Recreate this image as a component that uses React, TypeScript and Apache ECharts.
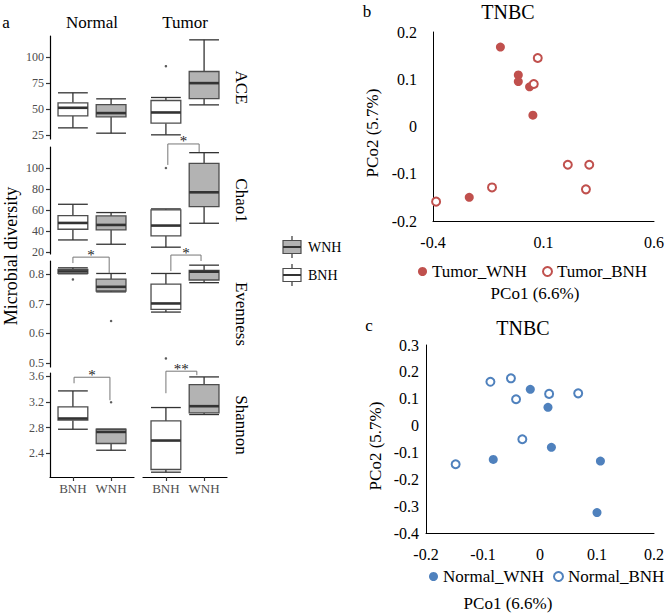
import React, { useEffect, useRef } from 'react';
import * as echarts from 'echarts';

const FONT = '"Liberation Serif", "Times New Roman", serif';

// ---------- Panel a: box statistics [min, q1, median, q3, max] ----------
const metrics = ['ACE', 'Chao1', 'Evenness', 'Shannon'];
const groups = ['Normal', 'Tumor'];
const nhLabels = ['BNH', 'WNH'];

const aceNormalBNH = [31.7, 43.3, 51.0, 55.8, 65.4];
const aceNormalWNH = [26.6, 42.3, 45.9, 54.1, 59.6];
const aceTumorBNH = [25.0, 36.2, 46.5, 58.0, 60.9];
const aceTumorWNH = [53.8, 59.9, 74.7, 85.9, 116.3];
const chao1NormalBNH = [31.4, 41.6, 47.6, 54.6, 65.4];
const chao1NormalWNH = [27.3, 41.0, 45.7, 54.3, 57.5];
const chao1TumorBNH = [24.5, 35.2, 45.1, 60.0, 61.0];
const chao1TumorWNH = [47.3, 63.2, 76.8, 104.4, 114.6];
const evenNormalBNH = [0.801, 0.802, 0.809, 0.816, 0.821];
const evenNormalWNH = [0.740, 0.743, 0.757, 0.783, 0.802];
const evenTumorBNH = [0.672, 0.681, 0.701, 0.766, 0.802];
const evenTumorWNH = [0.771, 0.780, 0.808, 0.812, 0.830];
const shanNormalBNH = [2.774, 2.915, 2.941, 3.122, 3.371];
const shanNormalWNH = [2.447, 2.552, 2.732, 2.774, 2.774];
const shanTumorBNH = [2.105, 2.147, 2.598, 2.904, 3.112];
const shanTumorWNH = [3.003, 3.028, 3.133, 3.47, 3.589];

// outliers [x position (1=BNH, 2=WNH), value]
const aceNormalOut: number[][] = [];
const aceTumorOut = [[1, 91]];
const chao1NormalOut: number[][] = [];
const chao1TumorOut = [[1, 100]];
const evenNormalOut = [[1, 0.782], [2, 0.642]];
const evenTumorOut = [[1, 0.516]];
const shanNormalOut = [[2, 3.195]];
const shanTumorOut: number[][] = [];

// significance brackets [x1, x2, yLeftEnd, yTop, yRightEnd]
const chao1TumorSig = [1.05, 1.87, 102.9, 122.9, 115.2];
const evenNormalSig = [1.0, 1.95, 0.837, 0.857, 0.803];
const evenTumorSig = [1.13, 1.92, 0.81, 0.864, 0.844];
const shanNormalSig = [1.03, 1.97, 3.49, 3.584, 3.226];
const shanTumorSig = [1.0, 1.81, 3.335, 3.678, 3.616];

// axis ranges and ticks
const yMins = [21, 18, 0.487, 2.03];
const yMaxs = [120, 120, 0.844, 3.65];
const aceTicks = [25, 50, 75, 100];
const chao1Ticks = [20, 40, 60, 80, 100];
const evenTicks = [0.5, 0.6, 0.7, 0.8];
const shanTicks = [2.4, 2.8, 3.2, 3.6];

// ---------- Panels b & c: PCoA ----------
const tumorWNH = [[-0.095, 0.168], [-0.014, 0.109], [-0.014, 0.095], [0.037, 0.084], [0.052, 0.024], [-0.236, -0.15]];
const tumorBNH = [[0.074, 0.145], [0.056, 0.09], [0.21, -0.081], [0.307, -0.081], [-0.133, -0.129], [0.292, -0.133], [-0.386, -0.159]];
const normalWNH = [[-0.017, 0.135], [0.014, 0.068], [0.02, -0.081], [-0.082, -0.126], [0.106, -0.132], [0.1, -0.324]];
const normalBNH = [[-0.087, 0.163], [-0.051, 0.176], [0.016, 0.118], [0.067, 0.12], [-0.042, 0.098], [-0.031, -0.051], [-0.148, -0.144]];
const bXTicks = [-0.4, 0.1, 0.6];
const bYTicks = [-0.2, -0.1, 0, 0.1, 0.2];
const cXTicks = [-0.2, -0.1, 0, 0.1, 0.2];
const cYTicks = [-0.4, -0.3, -0.2, -0.1, 0, 0.1, 0.2, 0.3];

const RED = '#C0504D';
const BLUE = '#4F81BD';
const GREY_FILL = '#B3B3B3';
const STROKE = '#333333';

export default function App() {
  const ref = useRef<HTMLDivElement>(null);
  useEffect(() => {
    document.body.style.margin = '0';
    if (!ref.current) return;
    const chart = echarts.init(ref.current, undefined, { renderer: 'svg' });

    const rowPos = [[36, 103], [147, 107], [261, 106], [373, 104]];
    const colPos = [[50, 84], [143, 84]];
    const yTicks = [aceTicks, chao1Ticks, evenTicks, shanTicks];
    const boxes = [
      [aceNormalBNH, aceNormalWNH], [aceTumorBNH, aceTumorWNH],
      [chao1NormalBNH, chao1NormalWNH], [chao1TumorBNH, chao1TumorWNH],
      [evenNormalBNH, evenNormalWNH], [evenTumorBNH, evenTumorWNH],
      [shanNormalBNH, shanNormalWNH], [shanTumorBNH, shanTumorWNH],
    ];
    const outs = [aceNormalOut, aceTumorOut, chao1NormalOut, chao1TumorOut, evenNormalOut, evenTumorOut, shanNormalOut, shanTumorOut];
    const sigs: { grid: number; v: number[]; label: string }[] = [
      { grid: 3, v: chao1TumorSig, label: '*' },
      { grid: 4, v: evenNormalSig, label: '*' },
      { grid: 5, v: evenTumorSig, label: '*' },
      { grid: 6, v: shanNormalSig, label: '*' },
      { grid: 7, v: shanTumorSig, label: '**' },
    ];

    const grids: any[] = [];
    const xAxes: any[] = [];
    const yAxes: any[] = [];
    const series: any[] = [];

    for (let r = 0; r < 4; r++) {
      for (let c = 0; c < 2; c++) {
        const gi = r * 2 + c;
        grids.push({ left: colPos[c][0], top: rowPos[r][0], width: colPos[c][1], height: rowPos[r][1] });
        const bottom = r === 3;
        xAxes.push({
          type: 'value', gridIndex: gi, min: 0.4, max: 2.6, show: bottom,
          axisLine: { show: true, onZero: false, lineStyle: { color: '#000', width: 1.2 } },
          axisTick: { show: true, length: 4, customValues: [1, 2], lineStyle: { color: STROKE, width: 1.2 } },
          axisLabel: {
            customValues: [1, 2], margin: 5, color: '#4D4D4D', fontSize: 13, fontFamily: FONT,
            formatter: (v: number) => nhLabels[Math.round(v) - 1],
          },
          splitLine: { show: false },
        });
        yAxes.push({
          type: 'value', gridIndex: gi, min: yMins[r], max: yMaxs[r], show: c === 0,
          axisLine: { show: true, onZero: false, lineStyle: { color: '#000', width: 1.2 } },
          axisTick: { show: true, length: 4, customValues: yTicks[r], lineStyle: { color: STROKE, width: 1.2 } },
          axisLabel: { customValues: yTicks[r], margin: 6, color: '#4D4D4D', fontSize: 12, fontFamily: FONT },
          splitLine: { show: false },
        });
        const bx = boxes[gi];
        series.push({
          type: 'custom', xAxisIndex: gi, yAxisIndex: gi,
          data: [[1, ...bx[0], 0], [2, ...bx[1], 1]],
          renderItem: (params: any, api: any) => {
            const x = api.value(0);
            const fill = api.value(6) === 1 ? GREY_FILL : '#FFFFFF';
            const half = api.size([0.78, 0])[0] / 2;
            const pLo = api.coord([x, api.value(1)]);
            const pQ1 = api.coord([x, api.value(2)]);
            const pMed = api.coord([x, api.value(3)]);
            const pQ3 = api.coord([x, api.value(4)]);
            const pHi = api.coord([x, api.value(5)]);
            const cx = pLo[0];
            const st = { stroke: STROKE, lineWidth: 1.3 };
            return {
              type: 'group',
              children: [
                { type: 'line', shape: { x1: cx, y1: pHi[1], x2: cx, y2: pQ3[1] }, style: st },
                { type: 'line', shape: { x1: cx, y1: pQ1[1], x2: cx, y2: pLo[1] }, style: st },
                { type: 'line', shape: { x1: cx - half, y1: pHi[1], x2: cx + half, y2: pHi[1] }, style: st },
                { type: 'line', shape: { x1: cx - half, y1: pLo[1], x2: cx + half, y2: pLo[1] }, style: st },
                { type: 'rect', shape: { x: cx - half, y: pQ3[1], width: half * 2, height: pQ1[1] - pQ3[1] }, style: { fill, stroke: '#4D4D4D', lineWidth: 1.3 } },
                { type: 'line', shape: { x1: cx - half, y1: pMed[1], x2: cx + half, y2: pMed[1] }, style: { stroke: STROKE, lineWidth: 2.6 } },
              ],
            };
          },
        });
        if (outs[gi].length) {
          series.push({
            type: 'scatter', xAxisIndex: gi, yAxisIndex: gi, data: outs[gi],
            symbolSize: 2.5, itemStyle: { color: STROKE }, silent: true,
          });
        }
      }
    }

    sigs.forEach((s) => {
      series.push({
        type: 'custom', xAxisIndex: s.grid, yAxisIndex: s.grid, clip: false,
        itemStyle: { color: '#222222' },
        data: [s.v],
        renderItem: (params: any, api: any) => {
          const x1 = api.value(0);
          const x2 = api.value(1);
          const pL = api.coord([x1, api.value(2)]);
          const pT1 = api.coord([x1, api.value(3)]);
          const pT2 = api.coord([x2, api.value(3)]);
          const pR = api.coord([x2, api.value(4)]);
          return {
            type: 'group',
            children: [
              { type: 'polyline', shape: { points: [pL, pT1, pT2, pR] }, style: { stroke: '#777777', lineWidth: 1, fill: 'none' } },
              {
                type: 'text', x: (pT1[0] + pT2[0]) / 2, y: pT1[1] - 2.5,
                style: { text: s.label, fill: '#222222', fontSize: 15, fontFamily: FONT, align: 'center', verticalAlign: 'middle' },
              },
            ],
          };
        },
      });
    });

    // Panel b grid (index 8)
    grids.push({ left: 433, top: 32, width: 222, height: 189 });
    xAxes.push({
      type: 'value', gridIndex: 8, min: -0.4, max: 0.6,
      axisLine: { onZero: false, lineStyle: { color: '#000', width: 1 } },
      axisTick: { show: false }, splitLine: { show: false },
      axisLabel: { customValues: bXTicks, margin: 13, color: '#000', fontSize: 16, fontFamily: FONT },
    });
    yAxes.push({
      type: 'value', gridIndex: 8, min: -0.2, max: 0.2,
      axisLine: { show: true, onZero: false, lineStyle: { color: '#000', width: 1 } },
      axisTick: { show: false }, splitLine: { show: false },
      axisLabel: { customValues: bYTicks, margin: 16, color: '#000', fontSize: 16, fontFamily: FONT },
    });
    // Panel c grid (index 9)
    grids.push({ left: 426, top: 345, width: 229, height: 188 });
    xAxes.push({
      type: 'value', gridIndex: 9, min: -0.2, max: 0.2,
      axisLine: { onZero: false, lineStyle: { color: '#000', width: 1 } },
      axisTick: { show: false }, splitLine: { show: false },
      axisLabel: { customValues: cXTicks, margin: 13, color: '#000', fontSize: 16, fontFamily: FONT },
    });
    yAxes.push({
      type: 'value', gridIndex: 9, min: -0.4, max: 0.3,
      axisLine: { show: true, onZero: false, lineStyle: { color: '#000', width: 1 } },
      axisTick: { show: false }, splitLine: { show: false },
      axisLabel: { customValues: cYTicks, margin: 7, color: '#000', fontSize: 16, fontFamily: FONT },
    });

    const filled = (name: string, data: number[][], color: string, gi: number) => ({
      name, type: 'scatter', xAxisIndex: gi, yAxisIndex: gi, data, symbol: 'circle', symbolSize: 9,
      itemStyle: { color, opacity: 1 },
    });
    const open = (name: string, data: number[][], color: string, gi: number) => ({
      name, type: 'scatter', xAxisIndex: gi, yAxisIndex: gi, data, symbol: 'circle', symbolSize: 8,
      itemStyle: { color: '#FFFFFF', borderColor: color, borderWidth: 2, opacity: 1 },
    });
    series.push(filled('Tumor_WNH', tumorWNH, RED, 8));
    series.push(open('Tumor_BNH', tumorBNH, RED, 8));
    series.push(filled('Normal_WNH', normalWNH, BLUE, 9));
    series.push(open('Normal_BNH', normalBNH, BLUE, 9));

    const legendText = { fontSize: 17, fontFamily: FONT, color: '#000' };
    const legendItem = (name: string, left: number, top: number) => ({
      data: [name], left, top, padding: 0, icon: 'circle', itemWidth: 9, itemHeight: 9,
      textStyle: legendText, selectedMode: false,
    });

    const txt = (text: string, x: number, y: number, size: number, extra: any = {}) => ({
      type: 'text', x, y, silent: true,
      style: { text, fontSize: size, fontFamily: FONT, fill: '#000000', align: 'center', verticalAlign: 'middle' },
      ...(extra.rotation !== undefined ? { rotation: extra.rotation } : {}),
    });

    const graphic: any[] = [
      txt('a', 6, 22, 17),
      txt(groups[0], 92, 22, 17),
      txt(groups[1], 185, 22, 17),
      txt('Microbial diversity', 11, 256, 18, { rotation: Math.PI / 2 }),
      ...metrics.map((m, r) => txt(m, 241, rowPos[r][0] + rowPos[r][1] / 2, 17, { rotation: -Math.PI / 2 })),
      txt('b', 367, 11, 17),
      txt('TNBC', 508, 12, 20),
      txt('PCo2 (5.7%)', 372, 133, 17, { rotation: Math.PI / 2 }),
      txt('PCo1 (6.6%)', 535, 293, 17),
      txt('c', 369, 325, 17),
      txt('TNBC', 523, 328, 20),
      txt('PCo2 (5.7%)', 375, 446, 17, { rotation: Math.PI / 2 }),
      txt('PCo1 (6.6%)', 508, 603, 17),
    ];
    // legend key for boxplots
    const keyItems = [
      { label: 'WNH', fill: GREY_FILL, cy: 247 },
      { label: 'BNH', fill: '#FFFFFF', cy: 275 },
    ];
    keyItems.forEach((k) => {
      graphic.push({ type: 'line', silent: true, shape: { x1: 292, y1: k.cy - 11, x2: 292, y2: k.cy + 11 }, style: { stroke: STROKE, lineWidth: 1.2 } });
      graphic.push({ type: 'rect', silent: true, shape: { x: 283, y: k.cy - 6.5, width: 18, height: 13 }, style: { fill: k.fill, stroke: '#4D4D4D', lineWidth: 1.2 } });
      graphic.push({ type: 'line', silent: true, shape: { x1: 283, y1: k.cy, x2: 301, y2: k.cy }, style: { stroke: STROKE, lineWidth: 2 } });
      graphic.push({ type: 'text', silent: true, x: 308, y: k.cy, style: { text: k.label, fontSize: 14, fontFamily: FONT, fill: '#000000', align: 'left', verticalAlign: 'middle' } });
    });

    chart.setOption({
      animation: false,
      textStyle: { fontFamily: FONT },
      grid: grids,
      xAxis: xAxes,
      yAxis: yAxes,
      legend: [
        legendItem('Tumor_WNH', 418, 263),
        legendItem('Tumor_BNH', 542, 263),
        legendItem('Normal_WNH', 429, 568),
        legendItem('Normal_BNH', 553, 568),
      ],
      graphic,
      series,
    });
    return () => chart.dispose();
  }, []);
  return <div ref={ref} style={{ width: 667, height: 614 }} />;
}
